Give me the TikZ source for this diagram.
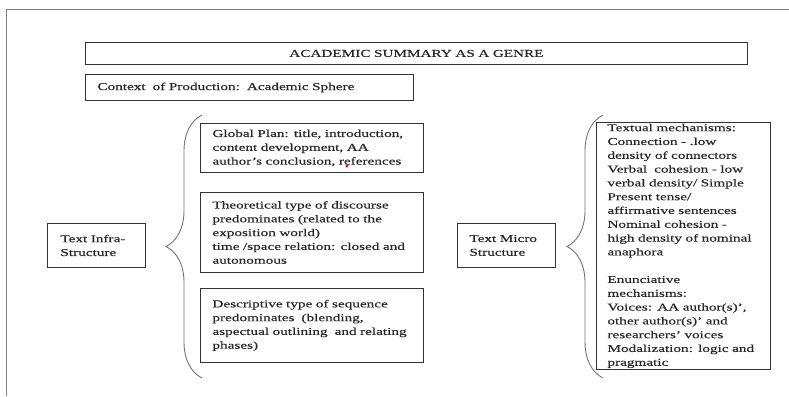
\documentclass[tikz,border=0pt]{standalone}
\usepackage{fontspec}
\setmainfont{Liberation Serif}[FakeStretch=1.45, FakeBold=0.3]
\usetikzlibrary{
    decorations.pathreplacing,
    positioning
}
\tikzset{
    box/.style={draw=black!80, line width=0.9pt, anchor=north west, align=left,
        inner xsep=12pt, inner ysep=0pt, text=black!85,
        font=\fontsize{10.5}{13.8}\selectfont},
    curly/.style={draw=black!55, line width=0.9pt, decorate,
        decoration={brace, amplitude=36pt}}
}

\begin{document}
\begin{tikzpicture}[x=1pt, y=-1pt]
    \useasboundingbox (0,0) rectangle (789,396);
    \draw[black!50, line width=0.8pt] (6,396) -- (6,9) -- (789,9);

    \node[box, align=center, text width=638pt, minimum height=22pt] (genre) at (85,42) {ACADEMIC SUMMARY AS A GENRE};
    \node[box, text width=304pt, minimum height=26pt] (context) at (85,74) {Context\ \ of Production:\ \ Academic Sphere};

    % infra-structure side
    \node[box, inner xsep=13pt, text width=72pt, minimum height=44pt] (infra) at (47,223) {Text Infra-\\Structure};
    \node[box, text width=199pt, minimum height=49pt] (plan) at (200,123) {Global Plan: title, introduction,\\content development, AA\\author's conclusion, references};
    \node[box, text width=199pt, minimum height=80pt] (theory) at (200,192) {Theoretical type of discourse\\predominates (related to the\\exposition world)\\time /space relation: closed and\\autonomous};
    \node[box, text width=199pt, minimum height=74pt] (sequence) at (200,288) {Descriptive type of sequence\\predominates\ \ (blending,\\aspectual outlining\ \ and relating\\phases)};
    \fill[red] (347,166) circle (1.6pt);

    % micro structure side
    \node[box, inner xsep=12pt, text width=74pt, minimum height=44pt] (micro) at (457,223) {Text Micro\\Structure};
    \node[box, inner xsep=11pt, text width=152pt, minimum height=247pt] (mechanisms) at (596,122) {Textual mechanisms:\\Connection - .low\\density of connectors\\Verbal\ \ cohesion - low\\verbal density/ Simple\\Present tense/\\affirmative sentences\\Nominal cohesion -\\high density of nominal\\anaphora\\[13.8pt]Enunciative\\mechanisms:\\Voices: AA author(s)',\\other author(s)' and\\researchers' voices\\Modalization: logic and\\pragmatic};

    \coordinate (lbot) at (202,378);
    \coordinate (ltop) at (202,115);
    \coordinate (rbot) at (603,378);
    \coordinate (rtop) at (603,115);
    \draw[curly] (lbot) -- (ltop);
    \draw[curly] (rbot) -- (rtop);
\end{tikzpicture}
\end{document}
